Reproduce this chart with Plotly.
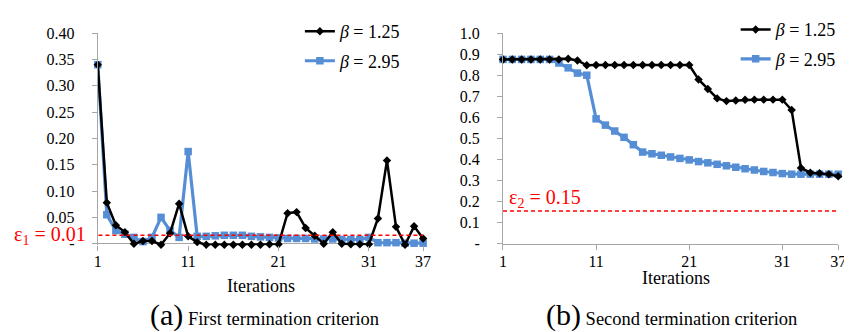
import plotly.graph_objects as go

# ---------------- data ----------------
iterations = list(range(1, 38))

# (a) first termination criterion
a_beta125 = [0.34, 0.078, 0.035, 0.022, 0.0, 0.005, 0.005, -0.002, 0.02, 0.076,
             0.014, 0.003, -0.002, -0.002, -0.002, -0.002, -0.002, -0.002, -0.002, -0.001,
             -0.001, 0.058, 0.06, 0.03, 0.015, 0.0, 0.022, 0.0, -0.001, -0.001,
             -0.001, 0.048, 0.158, 0.032, -0.002, 0.033, 0.01]
a_beta295 = [0.34, 0.055, 0.025, 0.018, 0.012, 0.004, 0.012, 0.05, 0.025, 0.012,
             0.175, 0.014, 0.014, 0.015, 0.016, 0.016, 0.016, 0.014, 0.013, 0.012,
             0.011, 0.01, 0.01, 0.01, 0.009, 0.009, 0.009, 0.008, 0.008, 0.008,
             0.012, 0.002, 0.002, 0.002, 0.001, 0.001, 0.001]

# (b) second termination criterion
b_beta125 = [0.875, 0.875, 0.875, 0.875, 0.875, 0.875, 0.875, 0.878, 0.87, 0.847,
             0.848, 0.848, 0.848, 0.848, 0.848, 0.848, 0.848, 0.848, 0.848, 0.848,
             0.848, 0.78, 0.735, 0.69, 0.677, 0.68, 0.683, 0.684, 0.684, 0.684,
             0.684, 0.635, 0.36, 0.337, 0.335, 0.33, 0.32]
b_beta295 = [0.875, 0.875, 0.875, 0.875, 0.875, 0.875, 0.858, 0.835, 0.81, 0.8,
             0.593, 0.563, 0.535, 0.505, 0.47, 0.435, 0.427, 0.42, 0.412, 0.405,
             0.398, 0.39, 0.384, 0.377, 0.37, 0.363, 0.356, 0.35, 0.343, 0.338,
             0.333, 0.33, 0.33, 0.33, 0.33, 0.33, 0.33]

series_names = ["<i>β</i> = 1.25", "<i>β</i> = 2.95"]
x_tickvals = [1, 11, 21, 31, 37]
x_ticktext = ["1", "11", "21", "31", "37"]
a_ytickvals = [0, 0.05, 0.10, 0.15, 0.20, 0.25, 0.30, 0.35, 0.40]
a_yticktext = ["-", "0.05", "0.10", "0.15", "0.20", "0.25", "0.30", "0.35", "0.40"]
b_ytickvals = [0, 0.1, 0.2, 0.3, 0.4, 0.5, 0.6, 0.7, 0.8, 0.9, 1.0]
b_yticktext = ["-", "0.1", "0.2", "0.3", "0.4", "0.5", "0.6", "0.7", "0.8", "0.9", "1.0"]
eps1_level = 0.016
eps2_level = 0.155
eps1_label = "ε<sub>1</sub> = 0.01"
eps2_label = "ε<sub>2</sub> = 0.15"
caption_a = "<span style='font-size:30px'>(a)</span> First termination criterion"
caption_b = "<span style='font-size:30px'>(b)</span> Second termination criterion"

# ---------------- style ----------------
W, H = 852, 332
SERIF = "Liberation Serif"
BLACK = "#000000"
BLUE = "#558ed5"
AXIS = "#a6a6a6"
RED = "#ff0000"

def px_x(p):
    return p / W

def px_y(p):
    return (H - p) / H

fig = go.Figure()

def add_pair(xa, ya, yb125, yb295, legend):
    fig.add_trace(go.Scatter(
        x=iterations, y=yb295, name=series_names[1], xaxis=xa, yaxis=ya,
        mode="lines+markers", line=dict(color=BLUE, width=3.2),
        marker=dict(symbol="square", size=7.5, color=BLUE),
        cliponaxis=False, legend=legend, legendrank=2, legendgroup=legend + "b"))
    fig.add_trace(go.Scatter(
        x=iterations, y=yb125, name=series_names[0], xaxis=xa, yaxis=ya,
        mode="lines+markers", line=dict(color=BLACK, width=2.5),
        marker=dict(symbol="diamond", size=6.5, color=BLACK),
        cliponaxis=False, legend=legend, legendrank=1, legendgroup=legend + "a"))

add_pair("x", "y", a_beta125, a_beta295, "legend")
add_pair("x2", "y2", b_beta125, b_beta295, "legend2")

# left panel: y=0 at pixel 240, 0.40 at pixel 18
a_lo = -0.003
a_scale = (240 - 18) / 0.40
a_bottom_px = 240 + (-a_lo) * a_scale

axis_font = dict(family=SERIF, size=16, color="#000000")

fig.update_layout(
    width=W, height=H,
    margin=dict(l=0, r=0, t=0, b=0),
    paper_bgcolor="white", plot_bgcolor="white",
    font=dict(family=SERIF, color="#000000"),
    xaxis=dict(domain=[px_x(87), px_x(417)], range=[1, 37], tickvals=x_tickvals,
               ticktext=x_ticktext, showgrid=False, zeroline=False, showline=False,
               ticks="outside", ticklen=5, tickcolor=AXIS, tickfont=axis_font,
               ticklabelstandoff=-3, anchor="y"),
    yaxis=dict(domain=[px_y(a_bottom_px), px_y(18)], range=[a_lo, 0.40],
               tickvals=a_ytickvals, ticktext=a_yticktext, showgrid=False,
               zeroline=True, zerolinecolor=AXIS, zerolinewidth=1,
               showline=True, linecolor=AXIS, linewidth=1, ticks="outside",
               ticklen=5, tickcolor=AXIS, tickfont=axis_font, ticklabelstandoff=14,
               anchor="x"),
    xaxis2=dict(domain=[px_x(498), px_x(838)], range=[1, 37], tickvals=x_tickvals,
                ticktext=x_ticktext, showgrid=False, zeroline=False, showline=True,
                linecolor=AXIS, linewidth=1, ticks="outside", ticklen=5,
                tickcolor=AXIS, tickfont=axis_font, ticklabelstandoff=-2, anchor="y2"),
    yaxis2=dict(domain=[px_y(240), px_y(18)], range=[0, 1.0], tickvals=b_ytickvals,
                ticktext=b_yticktext, showgrid=False, zeroline=False, showline=True,
                linecolor=AXIS, linewidth=1, ticks="outside", ticklen=5,
                tickcolor=AXIS, tickfont=axis_font, ticklabelstandoff=14, anchor="x2"),
    legend=dict(x=px_x(292), y=px_y(-3), xanchor="left", yanchor="top",
                bgcolor="rgba(0,0,0,0)", font=dict(family=SERIF, size=18),
                itemwidth=30, tracegroupgap=3),
    legend2=dict(x=px_x(734), y=px_y(-5), xanchor="left", yanchor="top",
                 bgcolor="rgba(0,0,0,0)", font=dict(family=SERIF, size=18),
                 itemwidth=30, tracegroupgap=3),
    showlegend=True,
)

# threshold lines
fig.add_shape(type="line", xref="x", yref="y", x0=0.3, x1=37.3, y0=eps1_level,
              y1=eps1_level, line=dict(color=RED, width=1.4, dash="4px,3px"), layer="above")
fig.add_shape(type="line", xref="x2", yref="y2", x0=1, x1=37, y0=eps2_level,
              y1=eps2_level, line=dict(color=RED, width=1.4, dash="4px,3px"), layer="above")

annotations = [
    dict(text=eps1_label, x=px_x(77), y=px_y(231), xanchor="right", yanchor="middle",
         font=dict(family=SERIF, size=20, color=RED)),
    dict(text=eps2_label, x=px_x(502), y=px_y(192), xanchor="left", yanchor="middle",
         font=dict(family=SERIF, size=20, color=RED)),
    dict(text="Iterations", x=px_x(253), y=px_y(285), xanchor="center", yanchor="middle",
         font=dict(family=SERIF, size=18)),
    dict(text="Iterations", x=px_x(673), y=px_y(276), xanchor="center", yanchor="middle",
         font=dict(family=SERIF, size=18)),
    dict(text=caption_a, x=px_x(256), y=px_y(315), xanchor="center", yanchor="middle",
         font=dict(family=SERIF, size=18.5)),
    dict(text=caption_b, x=px_x(669), y=px_y(315), xanchor="center", yanchor="middle",
         font=dict(family=SERIF, size=18.5)),
]
for a in annotations:
    a.update(xref="paper", yref="paper", showarrow=False)
    fig.add_annotation(**a)

fig.write_html("out.html")
